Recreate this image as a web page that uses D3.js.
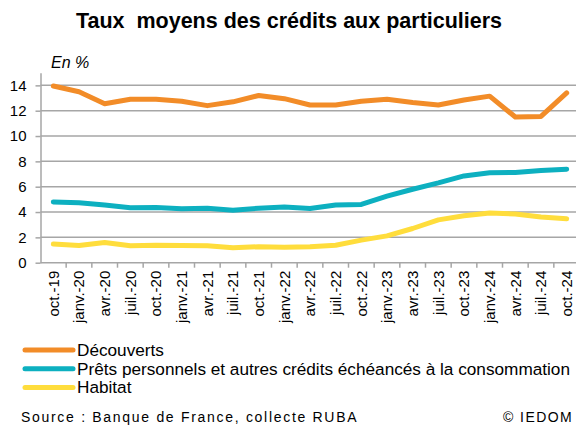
<!DOCTYPE html>
<html lang="fr">
<head>
  <meta charset="utf-8" />
  <script src="https://d3js.org/d3.v7.min.js"></script>
  <style>
    body { margin: 0; background: #fff; }
    text { font-family: "Liberation Sans", Arial, sans-serif; fill: #000; }
    .grid line { stroke: #a6a6a6; stroke-width: 1.5px; }
    .axis path, .axis line { stroke: #a6a6a6; stroke-width: 1.5px; }
    .serie { fill: none; stroke-width: 5px; stroke-linejoin: round; stroke-linecap: round; }
  </style>
</head>
<body>
  <div id="visu"></div>
  <script>
    const width = 576, height = 427;

    const mois = ["oct.-19", "janv.-20", "avr.-20", "juil.-20", "oct.-20", "janv.-21", "avr.-21",
      "juil.-21", "oct.-21", "janv.-22", "avr.-22", "juil.-22", "oct.-22", "janv.-23", "avr.-23",
      "juil.-23", "oct.-23", "janv.-24", "avr.-24", "juil.-24", "oct.-24"];

    const decouverts = [13.95, 13.5, 12.55, 12.9, 12.9, 12.75, 12.4, 12.7, 13.2, 12.95, 12.45,
      12.45, 12.75, 12.9, 12.65, 12.45, 12.85, 13.15, 11.5, 11.55, 13.4];
    const prets = [4.8, 4.73, 4.55, 4.33, 4.36, 4.26, 4.3, 4.15, 4.3, 4.4, 4.28,
      4.55, 4.6, 5.25, 5.8, 6.3, 6.85, 7.1, 7.12, 7.28, 7.38];
    const habitat = [1.47, 1.35, 1.6, 1.34, 1.37, 1.35, 1.34, 1.18, 1.26, 1.21, 1.26,
      1.38, 1.78, 2.12, 2.7, 3.38, 3.7, 3.93, 3.84, 3.6, 3.47];

    const yTicks = [0, 2, 4, 6, 8, 10, 12, 14];

    const series = [
      { nom: "Découverts", valeurs: decouverts, couleur: "#f28c28" },
      { nom: "Prêts personnels et autres crédits échéancés à la consommation", valeurs: prets, couleur: "#0db0c0" },
      { nom: "Habitat", valeurs: habitat, couleur: "#ffdd3c" }
    ];

    const svg = d3.select("#visu").append("svg")
      .attr("width", width)
      .attr("height", height);

    const x = d3.scaleBand().domain(mois).range([40.5, 579.5]);
    const y = d3.scaleLinear().domain([0, 15]).range([262.7, 72.7]);

    // titre (double espace conservé)
    svg.append("text")
      .attr("x", 289).attr("y", 28)
      .attr("text-anchor", "middle")
      .style("font-size", "21.5px")
      .style("font-weight", "bold")
      .style("white-space", "pre")
      .text("Taux  moyens des crédits aux particuliers");

    svg.append("text")
      .attr("x", 51).attr("y", 68)
      .style("font-size", "16px")
      .style("font-style", "italic")
      .text("En %");

    // grille
    svg.append("g").attr("class", "grid")
      .selectAll("line")
      .data(yTicks.slice(1))
      .enter().append("line")
      .attr("x1", 40.5).attr("x2", 576)
      .attr("y1", d => y(d)).attr("y2", d => y(d));

    // axe Y
    const yAxis = svg.append("g").attr("class", "axis")
      .attr("transform", "translate(40.5,0)")
      .call(d3.axisLeft(y).tickValues(yTicks).tickSize(5).tickSizeOuter(0).tickPadding(9));
    yAxis.selectAll("text").style("font-size", "15px");

    // axe X : graduations entre les catégories
    const xAxis = svg.append("g").attr("class", "axis")
      .attr("transform", `translate(0,${y(0)})`);
    xAxis.append("line")
      .attr("x1", 40.5).attr("x2", 576);
    xAxis.selectAll(".tick")
      .data(mois)
      .enter().append("line")
      .attr("x1", d => x(d) + x.step()).attr("x2", d => x(d) + x.step())
      .attr("y1", 0).attr("y2", 5);
    xAxis.selectAll(".lab")
      .data(mois)
      .enter().append("text")
      .attr("class", "lab")
      .attr("transform", d => `translate(${x(d) + x.bandwidth() / 2},8) rotate(-90)`)
      .attr("text-anchor", "end")
      .attr("dy", "0.35em")
      .style("font-size", "15px")
      .text(d => d);

    // courbes
    const ligne = d3.line()
      .x((d, i) => x(mois[i]) + x.bandwidth() / 2)
      .y(d => y(d));

    svg.selectAll(".serie")
      .data(series)
      .enter().append("path")
      .attr("class", "serie")
      .attr("d", d => ligne(d.valeurs))
      .style("stroke", d => d.couleur);

    // légende
    const legende = svg.selectAll(".leg")
      .data(series)
      .enter().append("g")
      .attr("class", "leg")
      .attr("transform", (d, i) => `translate(0,${350 + i * 18.7})`);
    legende.append("line")
      .attr("x1", 25).attr("x2", 73)
      .style("stroke", d => d.couleur)
      .style("stroke-width", "5px")
      .style("stroke-linecap", "round");
    legende.append("text")
      .attr("x", 77).attr("dy", "0.35em")
      .style("font-size", "17.2px")
      .text(d => d.nom);

    // source
    svg.append("text")
      .attr("x", 21).attr("y", 422)
      .style("font-size", "14px")
      .style("letter-spacing", "1.7px")
      .text("Source : Banque de France, collecte RUBA");
    svg.append("text")
      .attr("x", 573).attr("y", 422)
      .attr("text-anchor", "end")
      .style("font-size", "14px")
      .style("letter-spacing", "1.4px")
      .text("© IEDOM");
  </script>
</body>
</html>
